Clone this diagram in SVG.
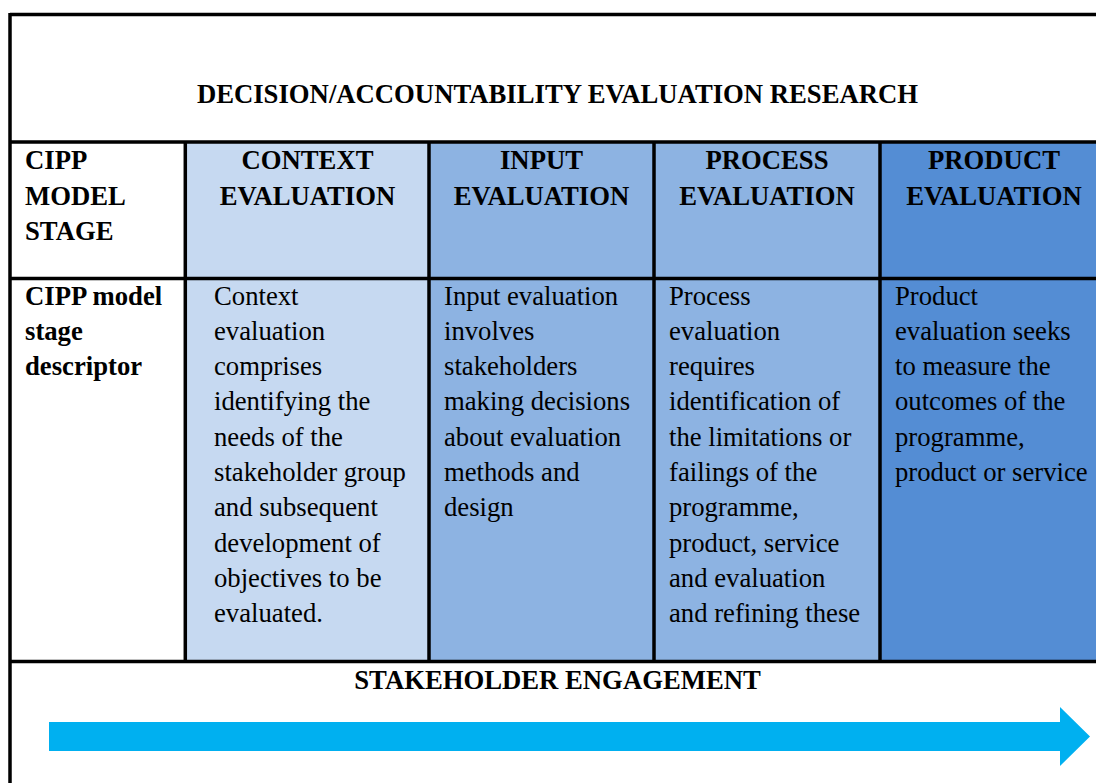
<svg xmlns="http://www.w3.org/2000/svg" width="1096" height="783" viewBox="0 0 1096 783">
<style>
.h{font-family:"Liberation Serif","Times New Roman",serif;font-weight:bold;font-size:26.7px;fill:#000}
.b{font-family:"Liberation Serif","Times New Roman",serif;font-size:26.7px;fill:#000}
.c{text-anchor:middle}
.ln{stroke:#000;stroke-width:3.5;fill:none}
</style>
<rect width="1096" height="783" fill="#fff"/>
<g id="col-context-fill"><rect x="185" y="142" width="244" height="519" fill="#C6D9F1"/></g>
<g id="col-input-fill"><rect x="429" y="142" width="225" height="519" fill="#8DB3E2"/></g>
<g id="col-process-fill"><rect x="654" y="142" width="226" height="519" fill="#8DB3E2"/></g>
<g id="col-product-fill"><rect x="880" y="142" width="230" height="519" fill="#548DD4"/></g>
<g id="grid">
<path class="ln" d="M10,14.5H1110M10,13V783M10,142H1110M10,278.5H1110M10,661.5H1110M185.3,142V661.5M429,142V661.5M654,142V661.5M880,142V661.5"/>
</g>
<g id="title"><text class="h c" x="557.5" y="103">DECISION/ACCOUNTABILITY EVALUATION RESEARCH</text></g>
<g id="stage-label"><text class="h" x="25" y="169"><tspan x="25">CIPP</tspan><tspan x="25" dy="35.5">MODEL</tspan><tspan x="25" dy="35.5">STAGE</tspan></text></g>
<g id="descriptor-label"><text class="h" x="25" y="304.5"><tspan x="25">CIPP model</tspan><tspan x="25" dy="35.3">stage</tspan><tspan x="25" dy="35.3">descriptor</tspan></text></g>
<g id="context">
<text class="h c" x="307.5" y="169"><tspan x="307.5">CONTEXT</tspan><tspan x="307.5" dy="35.5">EVALUATION</tspan></text>
<text class="b" x="214" y="304.5"><tspan x="214">Context</tspan><tspan x="214" dy="35.3">evaluation</tspan><tspan x="214" dy="35.3">comprises</tspan><tspan x="214" dy="35.3">identifying the</tspan><tspan x="214" dy="35.3">needs of the</tspan><tspan x="214" dy="35.3">stakeholder group</tspan><tspan x="214" dy="35.3">and subsequent</tspan><tspan x="214" dy="35.3">development of</tspan><tspan x="214" dy="35.3">objectives to be</tspan><tspan x="214" dy="35.3">evaluated.</tspan></text>
</g>
<g id="input">
<text class="h c" x="541.5" y="169"><tspan x="541.5">INPUT</tspan><tspan x="541.5" dy="35.5">EVALUATION</tspan></text>
<text class="b" x="444" y="304.5"><tspan x="444">Input evaluation</tspan><tspan x="444" dy="35.3">involves</tspan><tspan x="444" dy="35.3">stakeholders</tspan><tspan x="444" dy="35.3">making decisions</tspan><tspan x="444" dy="35.3">about evaluation</tspan><tspan x="444" dy="35.3">methods and</tspan><tspan x="444" dy="35.3">design</tspan></text>
</g>
<g id="process">
<text class="h c" x="767" y="169"><tspan x="767">PROCESS</tspan><tspan x="767" dy="35.5">EVALUATION</tspan></text>
<text class="b" x="669" y="304.5"><tspan x="669">Process</tspan><tspan x="669" dy="35.3">evaluation</tspan><tspan x="669" dy="35.3">requires</tspan><tspan x="669" dy="35.3">identification of</tspan><tspan x="669" dy="35.3">the limitations or</tspan><tspan x="669" dy="35.3">failings of the</tspan><tspan x="669" dy="35.3">programme,</tspan><tspan x="669" dy="35.3">product, service</tspan><tspan x="669" dy="35.3">and evaluation</tspan><tspan x="669" dy="35.3">and refining these</tspan></text>
</g>
<g id="product">
<text class="h c" x="994" y="169"><tspan x="994">PRODUCT</tspan><tspan x="994" dy="35.5">EVALUATION</tspan></text>
<text class="b" x="895" y="304.5"><tspan x="895">Product</tspan><tspan x="895" dy="35.3">evaluation seeks</tspan><tspan x="895" dy="35.3">to measure the</tspan><tspan x="895" dy="35.3">outcomes of the</tspan><tspan x="895" dy="35.3">programme,</tspan><tspan x="895" dy="35.3">product or service</tspan></text>
</g>
<g id="stakeholder-engagement">
<text class="h c" x="557.5" y="689">STAKEHOLDER ENGAGEMENT</text>
</g>
<g id="connectors">
<polygon points="49,722 1060,722 1060,707 1090,736.5 1060,766 1060,751 49,751" fill="#00B0F0"/>
</g>
</svg>
